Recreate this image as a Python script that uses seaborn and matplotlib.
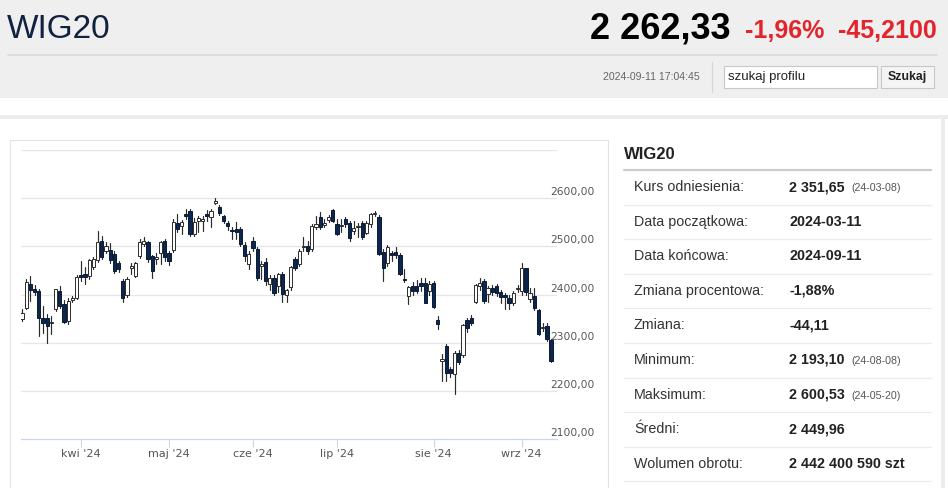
import pandas as pd
import matplotlib
matplotlib.use("Agg")
import matplotlib.pyplot as plt
from matplotlib.patches import Rectangle
from matplotlib.lines import Line2D
import seaborn as sns

# sesje GPW 11.03 - 11.09.2024 (bez swiat)
holidays = ["2024-03-29", "2024-04-01", "2024-05-01", "2024-05-03", "2024-05-30", "2024-08-15"]
dates = pd.bdate_range("2024-03-11", "2024-09-11").drop(pd.to_datetime(holidays))

opens = [2350, 2373, 2422, 2412, 2408, 2352, 2352, 2340, 2369, 2408,
         2380, 2345, 2388, 2392, 2441, 2442, 2439, 2458, 2472, 2511,
         2490, 2493, 2484, 2465, 2429, 2399, 2455, 2439, 2479, 2505,
         2509, 2479, 2474, 2487, 2512, 2487, 2493, 2548, 2543, 2568,
         2574, 2526, 2553, 2552, 2567, 2560, 2590, 2582, 2563, 2549,
         2533, 2537, 2537, 2503, 2463, 2512, 2494, 2460, 2468, 2421,
         2435, 2418, 2442, 2400, 2415, 2473, 2464, 2499, 2500, 2494,
         2540, 2560, 2545, 2554, 2575, 2547, 2543, 2556, 2549, 2532,
         2540, 2549, 2528, 2547, 2567, 2561, 2489, 2466, 2486, 2488,
         2483, 2432, 2397, 2417, 2417, 2424, 2424, 2408, 2424, 2348,
         2262, 2293, 2245, 2234, 2279, 2274, 2348, 2352, 2385, 2417,
         2429, 2401, 2414, 2418, 2406, 2400, 2393, 2383, 2412, 2407,
         2454, 2390, 2397, 2367, 2330, 2335, 2306]
highs = [2369, 2432, 2439, 2420, 2412, 2376, 2360, 2355, 2412, 2418,
         2388, 2392, 2396, 2440, 2470, 2458, 2474, 2478, 2532, 2522,
         2510, 2506, 2490, 2470, 2433, 2436, 2465, 2467, 2516, 2520,
         2512, 2482, 2487, 2512, 2515, 2490, 2556, 2567, 2555, 2578,
         2578, 2558, 2564, 2562, 2576, 2578, 2600, 2585, 2566, 2552,
         2540, 2550, 2540, 2508, 2490, 2520, 2498, 2470, 2475, 2440,
         2440, 2445, 2446, 2412, 2460, 2478, 2495, 2520, 2512, 2547,
         2563, 2572, 2556, 2566, 2578, 2556, 2556, 2560, 2552, 2553,
         2548, 2552, 2552, 2570, 2574, 2565, 2495, 2503, 2490, 2499,
         2486, 2452, 2418, 2425, 2431, 2434, 2434, 2428, 2428, 2355,
         2277, 2298, 2250, 2282, 2285, 2338, 2352, 2357, 2422, 2434,
         2433, 2418, 2420, 2422, 2410, 2404, 2400, 2407, 2420, 2466,
         2456, 2414, 2414, 2370, 2341, 2340, 2308]
lows = [2345, 2370, 2387, 2398, 2313, 2320, 2299, 2317, 2365, 2372,
        2340, 2338, 2385, 2390, 2427, 2422, 2433, 2452, 2468, 2474,
        2486, 2466, 2444, 2446, 2385, 2395, 2443, 2436, 2476, 2500,
        2468, 2435, 2463, 2463, 2470, 2462, 2488, 2530, 2525, 2557,
        2522, 2522, 2530, 2532, 2553, 2540, 2587, 2565, 2548, 2533,
        2515, 2515, 2500, 2470, 2453, 2490, 2430, 2432, 2420, 2410,
        2400, 2405, 2385, 2385, 2410, 2450, 2460, 2490, 2485, 2490,
        2535, 2537, 2540, 2550, 2550, 2523, 2530, 2540, 2511, 2525,
        2520, 2515, 2525, 2540, 2562, 2482, 2429, 2460, 2470, 2476,
        2440, 2426, 2380, 2400, 2403, 2407, 2382, 2400, 2372, 2328,
        2221, 2221, 2228, 2193, 2255, 2270, 2323, 2337, 2383, 2410,
        2383, 2385, 2398, 2396, 2383, 2369, 2370, 2378, 2405, 2400,
        2400, 2385, 2368, 2315, 2324, 2303, 2260]
closes = [2362, 2425, 2409, 2405, 2352, 2340, 2334, 2343, 2411, 2376,
          2343, 2387, 2393, 2437, 2436, 2436, 2471, 2473, 2509, 2478,
          2500, 2471, 2448, 2452, 2392, 2432, 2460, 2465, 2509, 2512,
          2473, 2449, 2478, 2508, 2477, 2470, 2550, 2537, 2550, 2564,
          2526, 2550, 2558, 2556, 2564, 2574, 2595, 2570, 2552, 2542,
          2531, 2530, 2505, 2480, 2485, 2496, 2435, 2463, 2428, 2435,
          2403, 2442, 2401, 2410, 2457, 2455, 2490, 2501, 2490, 2542,
          2547, 2541, 2549, 2561, 2553, 2526, 2545, 2547, 2518, 2539,
          2542, 2519, 2549, 2567, 2570, 2485, 2455, 2499, 2481, 2482,
          2443, 2430, 2415, 2407, 2408, 2417, 2383, 2422, 2374, 2338,
          2266, 2238, 2236, 2279, 2259, 2336, 2330, 2341, 2419, 2424,
          2386, 2414, 2405, 2404, 2395, 2394, 2383, 2403, 2414, 2455,
          2406, 2403, 2371, 2319, 2333, 2307, 2262]

y_ticks = [2100, 2200, 2300, 2400, 2500, 2600]
month_names = ["kwi '24", "maj '24", "cze '24", "lip '24", "sie '24", "wrz '24"]

table_labels = ["Kurs odniesienia:", "Data początkowa:", "Data końcowa:", "Zmiana procentowa:",
                "Zmiana:", "Minimum:", "Maksimum:", "Średni:", "Wolumen obrotu:"]
table_values = ["2 351,65", "2024-03-11", "2024-09-11", "-1,88%", "-44,11",
                "2 193,10", "2 600,53", "2 449,96", "2 442 400 590 szt"]
table_notes = ["(24-03-08)", "", "", "", "", "(24-08-08)", "(24-05-20)", "", ""]

W, H = 948, 488
sns.set_theme(style="white")
plt.rcParams['font.family'] = ['Liberation Sans', 'DejaVu Sans']

fig = plt.figure(figsize=(W / 100, H / 100), dpi=100)
fig.patch.set_facecolor('white')


def fx(px):
    return px / W


def fy(py):
    return 1 - py / H


def box(x0, y0, x1, y1, **kw):
    fig.patches.append(Rectangle((fx(x0), fy(y1)), fx(x1) - fx(x0), fy(y0) - fy(y1),
                                 transform=fig.transFigure, **kw))


def hline(x0, x1, y, color, lw):
    fig.lines.append(Line2D([fx(x0), fx(x1)], [fy(y), fy(y)], transform=fig.transFigure,
                            color=color, lw=lw))


def txt(x, y, s, **kw):
    fig.text(fx(x), fy(y), s, va='center', **kw)


# naglowek
box(0, 0, W, 98, facecolor='#efefef', edgecolor='none')
txt(7, 29, "WIG20", fontsize=24, color='#10223f')
txt(730, 29, "2 262,33", fontsize=26, fontweight='bold', color='black', ha='right')
txt(745, 31, "-1,96%", fontsize=18, fontweight='bold', color='#e3242b')
txt(937, 31, "-45,2100", fontsize=18, fontweight='bold', color='#e3242b', ha='right')
hline(8, 937, 55, '#d9d9d9', 1.2)
txt(700, 77, "2024-09-11 17:04:45", fontsize=7.6, color='#666666', ha='right')
fig.lines.append(Line2D([fx(712), fx(712)], [fy(62), fy(92)], transform=fig.transFigure,
                        color='#d5d5d5', lw=0.8))
box(724, 66, 877, 88, facecolor='white', edgecolor='#c8c8c8', lw=0.8)
txt(728, 77, "szukaj profilu", fontsize=9.5, color='#222222')
box(881, 66, 934, 88, facecolor='#f4f4f4', edgecolor='#c8c8c8', lw=0.8)
txt(907, 77, "Szukaj", fontsize=8.8, fontweight='bold', color='#222222', ha='center')

# ramki
box(0, 115, W, 119, facecolor='#ececec', edgecolor='none')
box(941, 119, 945, H, facecolor='#ececec', edgecolor='none')
box(10, 140, 608, H + 5, facecolor='none', edgecolor='#e3e3e3', lw=0.8)

# tabela
txt(624, 154, "WIG20", fontsize=12, fontweight='bold', color='#222222')
hline(624, 931, 170, '#cccccc', 1.6)
for k, (lab, val, note) in enumerate(zip(table_labels, table_values, table_notes)):
    yc = 187 + k * 34.6
    txt(634, yc, lab, fontsize=10.3, color='#333333')
    txt(789, yc, val, fontsize=10.3, fontweight='bold', color='#222222')
    if note:
        txt(851, yc + 1, note, fontsize=7.7, color='#555555')
    hline(624, 931, yc + 17.5, '#ececec', 0.9)

# wykres swiecowy
ax = fig.add_axes([fx(21), fy(439), fx(557) - fx(21), fy(150) - fy(439)])
df = pd.DataFrame({"date": dates, "open": opens, "high": highs, "low": lows, "close": closes})
df["idx"] = range(len(df))

for v in range(2200, 2800, 100):
    ax.axhline(v, color='#e6e6e6', lw=0.9, zorder=0)

wicks = pd.concat([df[["idx", "low"]].rename(columns={"low": "price"}),
                   df[["idx", "high"]].rename(columns={"high": "price"})])
sns.lineplot(data=wicks, x="idx", y="price", units="idx", estimator=None,
             color='#2b2b2b', lw=0.85, ax=ax, zorder=2, legend=False)

up = df["close"] >= df["open"]
body_low = df[["open", "close"]].min(axis=1)
body_h = (df["close"] - df["open"]).abs().clip(lower=1.8)
ax.bar(df["idx"], body_h, bottom=body_low, width=0.78,
       color=['white' if u else '#0c2650' for u in up],
       edgecolor=['#2b2b2b' if u else '#0a1a33' for u in up], lw=0.7, zorder=3)

ax.set_xlim(-0.24, 127.4)
ax.set_ylim(2100, 2700)
ax.set_xlabel("")
ax.set_ylabel("")
ax.set_yticks([])
for s in ["top", "left", "right"]:
    ax.spines[s].set_visible(False)
ax.spines["bottom"].set_color('#ccd6eb')
ax.spines["bottom"].set_linewidth(0.9)

first_days = df.groupby(df["date"].dt.month)["idx"].min().iloc[1:].tolist()
ax.set_xticks(first_days)
ax.set_xticklabels(month_names)
ax.tick_params(axis='x', length=6, width=0.8, color='#ccd6eb', pad=1,
               labelsize=8, labelcolor='#555555', bottom=True)
for lab in ax.get_xticklabels():
    lab.set_family('DejaVu Sans')

for v in y_ticks:
    ax.annotate(f"{v},00", xy=(1, v), xycoords=ax.get_yaxis_transform(),
                xytext=(-5, 4.3), textcoords='offset points', ha='left', va='center',
                fontsize=7.7, color='#555555', family='DejaVu Sans', annotation_clip=False)

fig.savefig("out.png", dpi=100)
